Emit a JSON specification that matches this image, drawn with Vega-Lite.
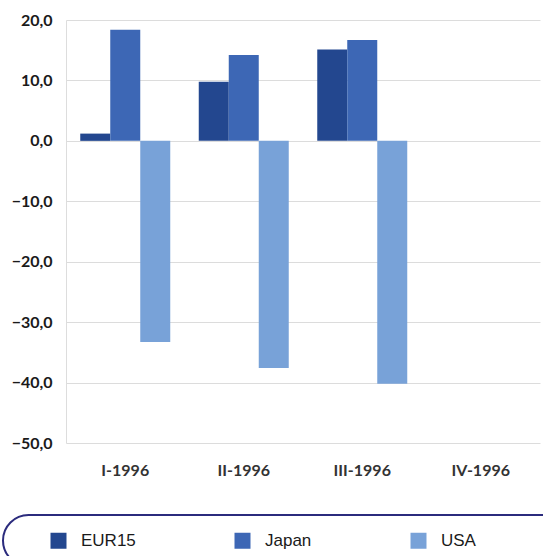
{
  "$schema": "https://vega.github.io/schema/vega-lite/v6.json",
  "autosize": "none",
  "width": 474,
  "height": 423,
  "padding": {"left": 66, "top": 20, "right": 3, "bottom": 113},
  "background": "#ffffff",
  "config": {
    "view": {"stroke": null},
    "axis": {"labelFont": "Lato", "labelFontWeight": "bold"}
  },
  "data": {
    "values": [
      {"quarter": "I-1996", "region": "EUR15", "value": 1.2},
      {"quarter": "I-1996", "region": "Japan", "value": 18.4},
      {"quarter": "I-1996", "region": "USA", "value": -33.3},
      {"quarter": "II-1996", "region": "EUR15", "value": 9.8},
      {"quarter": "II-1996", "region": "Japan", "value": 14.2},
      {"quarter": "II-1996", "region": "USA", "value": -37.6},
      {"quarter": "III-1996", "region": "EUR15", "value": 15.1},
      {"quarter": "III-1996", "region": "Japan", "value": 16.7},
      {"quarter": "III-1996", "region": "USA", "value": -40.2}
    ]
  },
  "mark": {"type": "bar"},
  "encoding": {
    "x": {
      "field": "quarter",
      "type": "nominal",
      "sort": ["I-1996", "II-1996", "III-1996", "IV-1996"],
      "scale": {"domain": ["I-1996", "II-1996", "III-1996", "IV-1996"], "paddingInner": 0, "paddingOuter": 0},
      "axis": {
        "title": null,
        "labelAngle": 0,
        "labelFontSize": 16,
        "labelColor": "#333333",
        "labelPadding": 19,
        "ticks": false,
        "domain": false
      }
    },
    "xOffset": {
      "field": "region",
      "type": "nominal",
      "scale": {"paddingInner": 0, "paddingOuter": 0.475}
    },
    "y": {
      "field": "value",
      "type": "quantitative",
      "scale": {"domain": [-50, 20], "nice": false},
      "axis": {
        "title": null,
        "values": [-50, -40, -30, -20, -10, 0, 10, 20],
        "labelExpr": "replace(format(datum.value, '.1f'), '.', ',')",
        "labelFontSize": 16,
        "labelColor": "#1a1a1a",
        "labelPadding": 14,
        "ticks": false,
        "domain": true,
        "domainColor": "#dddddd",
        "gridColor": "#dcdcdc",
        "gridWidth": 1
      }
    },
    "color": {
      "field": "region",
      "type": "nominal",
      "scale": {"domain": ["EUR15", "Japan", "USA"], "range": ["#23478f", "#3d67b5", "#78a2d8"]},
      "legend": {
        "title": " ",
        "titleOrient": "right",
        "titlePadding": 75,
        "titleFontSize": 17,
        "orient": "none",
        "legendX": -63,
        "legendY": 495,
        "direction": "horizontal",
        "columns": 3,
        "columnPadding": 68,
        "symbolType": "square",
        "symbolSize": 256,
        "symbolStrokeWidth": 0,
        "symbolOffset": 30,
        "labelFont": "Liberation Sans",
        "labelFontSize": 17,
        "labelColor": "#1a1a1a",
        "labelOffset": 14,
        "padding": 17,
        "strokeColor": "#2b2b7d",
        "cornerRadius": 26,
        "encode": {"legend": {"update": {"strokeWidth": {"value": 2}}}}
      }
    }
  }
}
